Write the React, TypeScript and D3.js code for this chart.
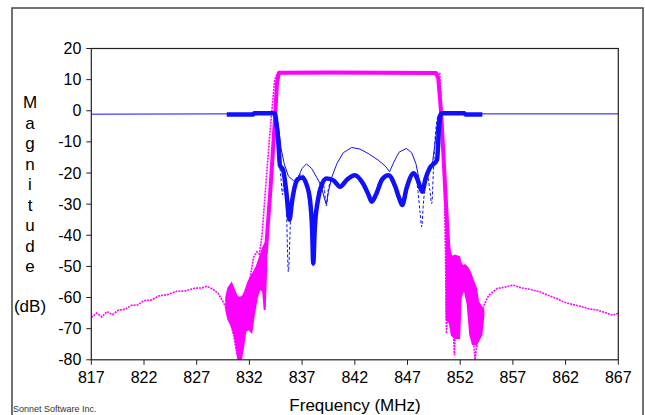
import React from 'react';
import * as d3 from 'd3';

type Pt = [number, number];
type Band = [number, number, number];

const width = 645;
const height = 415;
const plotLeft = 91.3;
const plotRight = 618.3;
const plotTop = 48.5;
const plotBottom = 359.8;

const xTickValues = [817, 822, 827, 832, 837, 842, 847, 852, 857, 862, 867];
const yTickValues = [20, 10, 0, -10, -20, -30, -40, -50, -60, -70, -80];
const yTitleLetters = ['M', 'a', 'g', 'n', 'i', 't', 'u', 'd', 'e'];

// thin blue, wideband sweep
const blueThin: Pt[] = [
  [817, -1.1], [830, -1.0], [834.3, -0.9], [834.6, -2], [834.8, -6], [835.0, -12], [835.3, -17],
  [835.7, -21], [836.2, -22.5], [836.6, -21.6], [837.0, -18.5], [837.4, -17.1], [837.9, -18.5],
  [838.4, -21.5], [838.8, -24], [839.1, -28], [839.3, -30], [839.5, -26], [839.8, -21.5],
  [840.3, -17], [840.9, -13.5], [841.7, -11.8], [842.5, -12.3], [843.3, -13.8], [844.2, -15.8],
  [844.9, -17.8], [845.3, -19.6], [845.7, -16.5], [846.2, -13.3], [846.9, -12.1], [847.4, -13.5],
  [847.8, -17], [848.1, -22], [848.35, -26], [848.6, -22], [849.0, -19.5], [849.4, -16],
  [849.7, -8], [849.9, -1.5], [850.3, -1.0], [867, -1.0],
];

// thick blue, narrowband sweep
const blueThick: Pt[] = [
  [829.85, -1.2], [832.35, -1.2], [832.45, -0.8], [834.4, -0.8], [834.6, -5], [834.75, -10.4],
  [834.9, -17.5], [835.2, -19], [835.5, -26], [835.8, -35], [836.05, -29], [836.3, -24.4],
  [836.6, -22], [837.0, -21.4], [837.4, -23.5], [837.75, -28.7], [837.95, -38], [838.06, -49],
  [838.2, -38], [838.5, -28.7], [838.9, -23.5], [839.3, -21.8], [839.95, -22.3], [840.6, -24.4],
  [841.3, -22], [842.0, -20.7], [842.8, -23.5], [843.3, -27], [843.6, -29.2], [844.0, -27],
  [844.6, -22], [845.2, -20.7], [845.8, -24], [846.2, -28], [846.5, -30.3], [846.9, -25],
  [847.6, -20.1], [848.0, -22.5], [848.4, -26], [848.7, -22], [849.1, -18.5], [849.8, -15.8],
  [850.0, -5], [850.2, -0.8], [852.4, -0.8], [852.5, -1.2], [854.1, -1.2],
];

// dashed blue
const blueDash: Pt[] = [
  [834.4, -0.9], [834.6, -6], [834.8, -14], [835.0, -22], [835.15, -27], [835.3, -20],
  [835.5, -30], [835.7, -51.8], [835.9, -35], [836.2, -25], [836.6, -21], [837.0, -20.5],
  [837.4, -22.5], [837.75, -28], [837.95, -40], [838.06, -50], [838.2, -40], [838.5, -27],
  [838.9, -22.5], [839.1, -25], [839.3, -30.6], [839.5, -25], [839.9, -22], [840.6, -24.4],
  [841.3, -22], [842.0, -20.7], [842.8, -23.5], [843.6, -29.2], [844.6, -22], [845.2, -20.7],
  [846.5, -30.3], [847.6, -20], [848.0, -26], [848.2, -33], [848.35, -37.3], [848.5, -30],
  [848.7, -24], [848.9, -21], [849.1, -25], [849.3, -29.8], [849.45, -20], [849.6, -10],
  [849.8, -3], [850.0, -1],
];

// thick magenta, passband
const magThick: Pt[] = [
  [833.55, -46], [834.0, -25], [834.4, -4], [834.62, 9], [834.8, 12.2], [840, 12.3],
  [845, 12.2], [849.7, 12.1], [849.92, 10.5], [850.2, -1], [850.5, -20], [850.8, -39.2], [850.95, -48],
];

// thick magenta, noisy skirts: [f, top, bottom]
const magLeftBand: Band[] = [
  [829.8, -60, -64], [830.0, -57, -67], [830.3, -55.5, -69], [830.6, -58, -72],
  [830.8, -59.5, -76], [830.95, -60, -80], [831.2, -60, -80], [831.4, -59.5, -76],
  [831.6, -58, -71], [831.9, -55, -70], [832.2, -53, -71], [832.4, -52, -66],
  [832.7, -50, -60], [833.0, -47, -57], [833.3, -44, -58], [833.45, -43, -64], [833.6, -44, -50],
];

const magRightBand: Band[] = [
  [850.7, -38, -67], [851.0, -45, -68], [851.2, -47, -72], [851.5, -46.5, -73],
  [851.9, -47, -73], [852.05, -49, -60], [852.25, -50, -58], [852.45, -49.6, -58],
  [852.7, -50.5, -62], [852.95, -52, -72], [853.2, -54.4, -75], [853.5, -57, -75],
  [853.7, -61.4, -74], [854.0, -63, -72], [854.2, -64, -66],
];

// thin magenta, wideband sweep
const magThin: Pt[] = [
  [817, -66.5], [817.5, -65], [818, -66.2], [818.5, -64.5], [819, -65.5], [819.6, -64],
  [820.2, -63.8], [820.8, -62.5], [821.4, -62.4], [822, -61], [822.7, -60.8], [823.4, -59.5],
  [824.3, -59], [825.1, -58], [825.9, -57.9], [826.8, -57], [827.5, -56.9], [827.95, -56.4],
  [828.5, -57.2], [829.05, -58.7], [829.5, -61.4], [829.9, -64], [830.15, -67.3], [830.5, -72],
  [830.8, -78], [831.05, -80], [831.3, -75], [831.6, -66], [832.0, -55], [832.4, -47],
  [832.7, -45.3], [832.95, -46], [833.2, -40], [833.6, -22], [834.0, -5], [834.4, 10],
  [834.65, 12], [850.05, 12], [850.3, -5], [850.5, -25], [850.6, -45], [850.7, -71.5],
  [850.85, -60], [851.1, -55], [851.3, -65], [851.45, -78.5], [851.6, -65], [851.9, -55],
  [852.2, -50], [852.5, -52], [852.8, -58], [853.1, -66], [853.4, -80], [853.7, -72],
  [854.0, -66], [854.2, -62.9], [854.7, -59.3], [855.5, -57.1], [856.2, -56.7], [857.0, -56],
  [857.8, -56.9], [858.7, -57.4], [859.6, -58.2], [860.5, -59.5], [861.3, -60.5], [861.8, -61.4],
  [862.6, -62.2], [863.4, -62.8], [864.3, -63.7], [865.0, -64], [865.7, -64.8], [866.5, -65.7],
  [867, -65],
];

const blue = '#1010ff';
const magenta = '#ff00ff';
const font = 'Liberation Sans, Arial, sans-serif';

const App = () => {
  const xScale = d3.scaleLinear().domain([817, 867]).range([plotLeft, plotRight]);
  const yScale = d3.scaleLinear().domain([-80, 20]).range([plotBottom, plotTop]);

  const smooth = d3.line<Pt>().x(d => xScale(d[0])).y(d => yScale(d[1])).curve(d3.curveMonotoneX);
  const straight = d3.line<Pt>().x(d => xScale(d[0])).y(d => yScale(d[1]));
  const band = d3.area<Band>().x(d => xScale(d[0])).y0(d => yScale(d[2])).y1(d => yScale(d[1]));

  return (
    <svg width={width} height={height} style={{position: 'absolute', left: 0, top: 0, background: 'white'}}>
      <defs>
        <clipPath id="plotClip">
          <rect x={plotLeft} y={plotTop} width={plotRight - plotLeft} height={plotBottom - plotTop}/>
        </clipPath>
      </defs>
      <rect x={12} y={8} width={631} height={420} fill="none" stroke="#444" strokeWidth={1.5}/>

      <g clipPath="url(#plotClip)">
        <path d={straight(magThin) ?? ''} fill="none" stroke={magenta} strokeWidth={1.6} strokeDasharray="2 1"/>
        <path d={band(magLeftBand) ?? ''} fill={magenta} stroke={magenta} strokeWidth={2}/>
        <path d={band(magRightBand) ?? ''} fill={magenta} stroke={magenta} strokeWidth={2}/>
        <path d={straight(magThick) ?? ''} fill="none" stroke={magenta} strokeWidth={4} strokeLinejoin="round"/>
        <path d={straight(blueThin) ?? ''} fill="none" stroke={blue} strokeWidth={1}/>
        <path d={smooth(blueDash) ?? ''} fill="none" stroke={blue} strokeWidth={1} strokeDasharray="3 2"/>
        <path d={smooth(blueThick) ?? ''} fill="none" stroke={blue} strokeWidth={4.5} strokeLinejoin="round"/>
      </g>

      <rect x={plotLeft} y={plotTop} width={plotRight - plotLeft} height={plotBottom - plotTop} fill="none" stroke="#222" strokeWidth={1.2}/>

      {yTickValues.map(v => (
        <g key={v} transform={`translate(${plotLeft}, ${yScale(v)})`}>
          <line x1={-5} x2={0} stroke="#222"/>
          <text x={-10} y={5.5} textAnchor="end" fontFamily={font} fontSize={16} fill="black">{v}</text>
        </g>
      ))}
      {xTickValues.map(v => (
        <g key={v} transform={`translate(${xScale(v)}, ${plotBottom})`}>
          <line y1={0} y2={5} stroke="#222"/>
          <text y={23} textAnchor="middle" fontFamily={font} fontSize={16} fill="black">{v}</text>
        </g>
      ))}

      {yTitleLetters.map((c, i) => (
        <text key={i} x={30} y={108 + i * 20.5} textAnchor="middle" fontFamily={font} fontSize={17} fill="black">{c}</text>
      ))}
      <text x={30} y={312} textAnchor="middle" fontFamily={font} fontSize={17} fill="black">(dB)</text>
      <text x={355} y={411} textAnchor="middle" fontFamily={font} fontSize={17} fill="black">Frequency (MHz)</text>
      <text x={13} y={412} fontFamily={font} fontSize={9} fill="#333">Sonnet Software Inc.</text>
    </svg>
  );
};

export default App;
